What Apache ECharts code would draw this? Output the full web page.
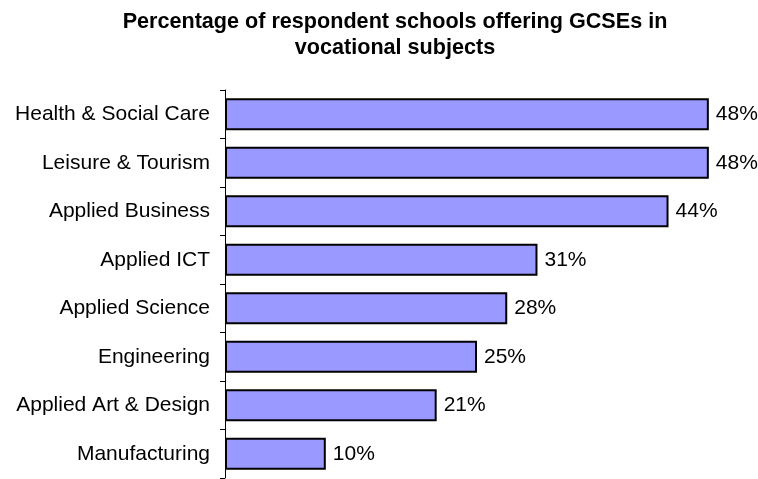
<!DOCTYPE html>
<html lang="en">
<head>
    <meta charset="utf-8">
    <title>GCSEs in vocational subjects</title>
    <script src="https://cdn.jsdelivr.net/npm/echarts@6/dist/echarts.min.js"></script>
    <style>
        html, body { margin: 0; padding: 0; background: #fff; }
        #chartBar { width: 758px; height: 479px; }
    </style>
</head>
<body>
<div id="chartBar"></div>
<script>
    // categories top to bottom
    var subjects = ['Health & Social Care', 'Leisure & Tourism', 'Applied Business', 'Applied ICT',
        'Applied Science', 'Engineering', 'Applied Art & Design', 'Manufacturing'];
    var percentOffering = [48, 48, 44, 31, 28, 25, 21, 10];

    var chartBar = echarts.init(document.getElementById('chartBar'));
    chartBar.setOption({
        animation: false,
        title: {
            text: 'Percentage of respondent schools offering GCSEs in\nvocational subjects',
            left: 390,
            top: 4,
            textAlign: 'center',
            textStyle: {
                fontFamily: 'Liberation Sans, Arial',
                fontSize: 21.6,
                fontWeight: 'bold',
                color: '#000',
                lineHeight: 26
            }
        },
        grid: {
            left: 225,
            top: 90,
            width: 504,
            height: 388
        },
        xAxis: {
            type: 'value',
            min: 0,
            max: 50,
            show: false
        },
        yAxis: {
            type: 'category',
            inverse: true,
            data: subjects,
            axisLine: { lineStyle: { color: '#000', width: 1 } },
            axisTick: { show: true, length: 5, lineStyle: { color: '#000' } },
            axisLabel: {
                color: '#000',
                fontFamily: 'Liberation Sans, Arial',
                fontSize: 21,
                margin: 15
            }
        },
        series: [{
            type: 'bar',
            data: percentOffering,
            barCategoryGap: '34%',
            itemStyle: {
                color: '#9999ff',
                borderColor: '#000',
                borderWidth: 2
            },
            label: {
                show: true,
                position: 'right',
                distance: 7,
                formatter: '{c}%',
                color: '#000',
                fontFamily: 'Liberation Sans, Arial',
                fontSize: 21
            }
        }]
    });
</script>
</body>
</html>
